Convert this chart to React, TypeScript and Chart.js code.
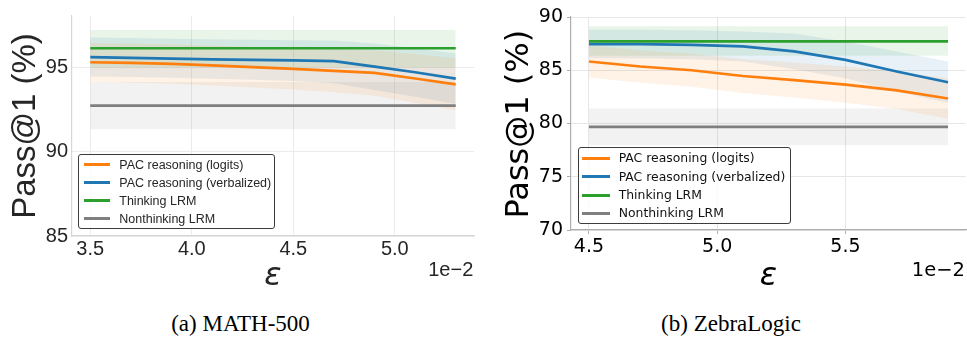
import React, { useEffect, useRef } from "react";
import { Chart, registerables } from "chart.js";

Chart.register(...registerables);

const ORANGE = "#ff7f0e";
const BLUE = "#1f77b4";
const GREEN = "#2ca02c";
const GREY = "#7f7f7f";

const seriesLabels = [
  "PAC reasoning (logits)",
  "PAC reasoning (verbalized)",
  "Thinking LRM",
  "Nonthinking LRM",
];

// ---------- (a) MATH-500 ----------
const mathEps = [3.5, 3.7, 3.9, 4.1, 4.3, 4.5, 4.7, 4.9, 5.1, 5.3];
const mathLogits = [95.29, 95.25, 95.19, 95.1, 95.0, 94.9, 94.78, 94.66, 94.33, 93.98];
const mathLogitsLow = [94.13, 94.08, 94.02, 93.92, 93.8, 93.68, 93.52, 93.3, 92.88, 92.43];
const mathLogitsHigh = [96.43, 96.4, 96.36, 96.28, 96.2, 96.12, 96.04, 96.0, 95.78, 95.53];
const mathVerb = [95.6, 95.55, 95.5, 95.46, 95.43, 95.4, 95.36, 95.03, 94.7, 94.32];
const mathVerbLow = [94.45, 94.42, 94.38, 94.32, 94.26, 94.18, 94.05, 93.65, 93.25, 92.82];
const mathVerbHigh = [96.75, 96.72, 96.68, 96.65, 96.62, 96.6, 96.58, 96.4, 96.12, 95.82];
const mathThinking = 96.12;
const mathThinkingLow = 95.0;
const mathThinkingHigh = 97.2;
const mathNonthinking = 92.72;
const mathNonthinkingLow = 91.32;
const mathNonthinkingHigh = 94.12;
const mathXTicks = [3.5, 4.0, 4.5, 5.0];
const mathYTicks = [85, 90, 95];

// ---------- (b) ZebraLogic ----------
const zebraEps = [4.5, 4.7, 4.9, 5.1, 5.3, 5.5, 5.7, 5.9];
const zebraLogits = [85.82, 85.35, 85.0, 84.46, 84.08, 83.65, 83.11, 82.35];
const zebraLogitsLow = [84.32, 83.83, 83.45, 82.87, 82.44, 81.95, 81.35, 80.45];
const zebraLogitsHigh = [87.32, 86.87, 86.55, 86.05, 85.72, 85.35, 84.87, 84.25];
const zebraVerb = [87.46, 87.45, 87.39, 87.24, 86.77, 85.97, 84.88, 83.87];
const zebraVerbLow = [86.12, 86.1, 86.03, 85.83, 85.1, 84.25, 83.0, 81.92];
const zebraVerbHigh = [88.8, 88.8, 88.75, 88.65, 88.45, 87.7, 86.75, 85.82];
const zebraThinking = 87.72;
const zebraThinkingLow = 86.35;
const zebraThinkingHigh = 89.13;
const zebraNonthinking = 79.68;
const zebraNonthinkingLow = 77.95;
const zebraNonthinkingHigh = 81.42;
const zebraXTicks = [4.5, 5.0, 5.5];
const zebraYTicks = [70, 75, 80, 85, 90];

function rgba(hex: string, a: number) {
  const n = parseInt(hex.slice(1), 16);
  return `rgba(${(n >> 16) & 255},${(n >> 8) & 255},${n & 255},${a})`;
}
function pts(xs: number[], ys: number[]) {
  return xs.map((x, i) => ({ x, y: ys[i] }));
}
function flat(xs: number[], v: number) {
  return [
    { x: xs[0], y: v },
    { x: xs[xs.length - 1], y: v },
  ];
}

function bandSets(low: any[], high: any[], color: string) {
  return [
    {
      label: "_band_low",
      data: low,
      borderWidth: 0,
      borderColor: "rgba(0,0,0,0)",
      pointRadius: 0,
      fill: false,
      order: 10,
    },
    {
      label: "_band_high",
      data: high,
      borderWidth: 0,
      borderColor: "rgba(0,0,0,0)",
      backgroundColor: rgba(color, 0.1),
      pointRadius: 0,
      fill: "-1",
      order: 10,
    },
  ];
}

function lineSet(label: string, data: any[], color: string, order: number) {
  return {
    label,
    data,
    borderColor: color,
    backgroundColor: color,
    borderWidth: 2.7,
    pointRadius: 0,
    fill: false,
    tension: 0,
    order,
  };
}

const axisTextPlugin = {
  id: "axisText",
  afterDraw(chart: any, _args: any, o: any) {
    const { ctx, chartArea } = chart;
    ctx.save();
    ctx.fillStyle = o.color;
    ctx.save();
    ctx.translate(o.yBaselineX, (chartArea.top + chartArea.bottom) / 2 + o.yShift);
    ctx.rotate(-Math.PI / 2);
    ctx.font = o.yFont;
    ctx.textAlign = "center";
    ctx.textBaseline = "alphabetic";
    ctx.fillText(o.yLabel, 0, 0);
    ctx.restore();
    ctx.font = o.xFont;
    ctx.textAlign = "center";
    ctx.textBaseline = "alphabetic";
    ctx.fillText(o.xLabel, (chartArea.left + chartArea.right) / 2 + o.xShift, o.xBaselineY);
    ctx.font = o.offFont;
    ctx.textAlign = "right";
    ctx.fillText(o.offsetText, chartArea.right + o.offDx, o.offBaselineY);
    ctx.restore();
  },
};

type Cfg = {
  eps: number[];
  logits: number[];
  logitsLow: number[];
  logitsHigh: number[];
  verb: number[];
  verbLow: number[];
  verbHigh: number[];
  thinking: number;
  thinkingLow: number;
  thinkingHigh: number;
  non: number;
  nonLow: number;
  nonHigh: number;
  xTicks: number[];
  yTicks: number[];
  xMin: number;
  xMax: number;
  yMin: number;
  yMax: number;
  yWidth: number;
  xHeight: number;
  padTop: number;
  padRight: number;
  font: string;
  tickSize: number;
  textColor: string;
  gridColor: string;
  borderColor: string;
  drawTicks: boolean;
  xTickPad: number;
  yTickPad: number;
  axisText: any;
};

function buildConfig(c: Cfg): any {
  const datasets = [
    ...bandSets(pts(c.eps, c.logitsLow), pts(c.eps, c.logitsHigh), ORANGE),
    ...bandSets(pts(c.eps, c.verbLow), pts(c.eps, c.verbHigh), BLUE),
    ...bandSets(flat(c.eps, c.thinkingLow), flat(c.eps, c.thinkingHigh), GREEN),
    ...bandSets(flat(c.eps, c.nonLow), flat(c.eps, c.nonHigh), GREY),
    lineSet(seriesLabels[0], pts(c.eps, c.logits), ORANGE, 4),
    lineSet(seriesLabels[1], pts(c.eps, c.verb), BLUE, 3),
    lineSet(seriesLabels[2], flat(c.eps, c.thinking), GREEN, 2),
    lineSet(seriesLabels[3], flat(c.eps, c.non), GREY, 1),
  ];
  const tickFont = { family: c.font, size: c.tickSize };
  return {
    type: "line",
    data: { datasets },
    plugins: [axisTextPlugin],
    options: {
      animation: false,
      responsive: false,
      maintainAspectRatio: false,
      layout: { padding: { top: c.padTop, right: c.padRight, left: 0, bottom: 0 } },
      plugins: {
        legend: { display: false },
        tooltip: { enabled: false },
        axisText: c.axisText,
      },
      scales: {
        x: {
          type: "linear",
          min: c.xMin,
          max: c.xMax,
          afterBuildTicks: (s: any) => {
            s.ticks = c.xTicks.map((v) => ({ value: v }));
          },
          afterFit: (s: any) => {
            s.height = c.xHeight;
          },
          ticks: {
            font: tickFont,
            color: c.textColor,
            padding: c.xTickPad,
            maxRotation: 0,
            autoSkip: false,
            callback: (v: any) => Number(v).toFixed(1),
          },
          grid: {
            color: c.gridColor,
            lineWidth: 1,
            drawTicks: c.drawTicks,
            tickLength: 4,
            tickColor: c.borderColor,
          },
          border: { color: c.borderColor, width: 1.2 },
        },
        y: {
          type: "linear",
          min: c.yMin,
          max: c.yMax,
          afterBuildTicks: (s: any) => {
            s.ticks = c.yTicks.map((v) => ({ value: v }));
          },
          afterFit: (s: any) => {
            s.width = c.yWidth;
          },
          ticks: {
            font: tickFont,
            color: c.textColor,
            padding: c.yTickPad,
            autoSkip: false,
            callback: (v: any) => String(v),
          },
          grid: {
            color: c.gridColor,
            lineWidth: 1,
            drawTicks: c.drawTicks,
            tickLength: 4,
            tickColor: c.borderColor,
          },
          border: { color: c.borderColor, width: 1.2 },
        },
      },
    },
  };
}

function ChartCanvas({ cfg, width, height }: { cfg: Cfg; width: number; height: number }) {
  const ref = useRef<HTMLCanvasElement | null>(null);
  useEffect(() => {
    if (!ref.current) return;
    const chart = new Chart(ref.current, buildConfig(cfg));
    return () => chart.destroy();
  }, []);
  return <canvas ref={ref} width={width} height={height} style={{ width, height, display: "block" }} />;
}

function Legend({
  left,
  top,
  width,
  height,
  rows,
  lineLeft,
  lineWidth,
  textLeft,
  font,
  size,
  color,
}: any) {
  const colors = [ORANGE, BLUE, GREEN, GREY];
  return (
    <div
      style={{
        position: "absolute",
        left,
        top,
        width,
        height,
        boxSizing: "border-box",
        border: "1px solid #3c3c3c",
        borderRadius: 3,
        background: "rgba(255,255,255,0.8)",
      }}
    >
      {seriesLabels.map((lab, i) => (
        <React.Fragment key={lab}>
          <div
            style={{
              position: "absolute",
              left: lineLeft,
              top: rows[i] - 1.5,
              width: lineWidth,
              height: 3,
              background: colors[i],
            }}
          />
          <div
            style={{
              position: "absolute",
              left: textLeft,
              top: rows[i] - 9,
              height: 18,
              lineHeight: "18px",
              whiteSpace: "nowrap",
              fontFamily: font,
              fontSize: size,
              color,
            }}
          >
            {lab}
          </div>
        </React.Fragment>
      ))}
    </div>
  );
}

const mathCfg: Cfg = {
  eps: mathEps,
  logits: mathLogits,
  logitsLow: mathLogitsLow,
  logitsHigh: mathLogitsHigh,
  verb: mathVerb,
  verbLow: mathVerbLow,
  verbHigh: mathVerbHigh,
  thinking: mathThinking,
  thinkingLow: mathThinkingLow,
  thinkingHigh: mathThinkingHigh,
  non: mathNonthinking,
  nonLow: mathNonthinkingLow,
  nonHigh: mathNonthinkingHigh,
  xTicks: mathXTicks,
  yTicks: mathYTicks,
  xMin: 3.41,
  xMax: 5.39,
  yMin: 85,
  yMax: 98.03,
  yWidth: 72,
  xHeight: 64,
  padTop: 10,
  padRight: 6,
  font: "'Liberation Sans', Arial, sans-serif",
  tickSize: 20,
  textColor: "#262626",
  gridColor: "#ebebeb",
  borderColor: "#d6d6d6",
  drawTicks: false,
  xTickPad: 1,
  yTickPad: 4,
  axisText: {
    color: "#262626",
    yLabel: "Pass@1 (%)",
    yFont: "33px 'Liberation Sans', Arial, sans-serif",
    yBaselineX: 35,
    yShift: 0,
    xLabel: "ε",
    xFont: "italic 32px 'DejaVu Sans', sans-serif",
    xBaselineY: 285,
    xShift: 0,
    offsetText: "1e\u22122",
    offFont: "20px 'Liberation Sans', Arial, sans-serif",
    offDx: -0.7,
    offBaselineY: 276,
  },
};

const zebraCfg: Cfg = {
  eps: zebraEps,
  logits: zebraLogits,
  logitsLow: zebraLogitsLow,
  logitsHigh: zebraLogitsHigh,
  verb: zebraVerb,
  verbLow: zebraVerbLow,
  verbHigh: zebraVerbHigh,
  thinking: zebraThinking,
  thinkingLow: zebraThinkingLow,
  thinkingHigh: zebraThinkingHigh,
  non: zebraNonthinking,
  nonLow: zebraNonthinkingLow,
  nonHigh: zebraNonthinkingHigh,
  xTicks: zebraXTicks,
  yTicks: zebraYTicks,
  xMin: 4.43,
  xMax: 5.97,
  yMin: 70,
  yMax: 90,
  yWidth: 91,
  xHeight: 70,
  padTop: 17,
  padRight: 1,
  font: "'DejaVu Sans', sans-serif",
  tickSize: 19,
  textColor: "#000000",
  gridColor: "#e6e6e6",
  borderColor: "#adadad",
  drawTicks: true,
  xTickPad: 2,
  yTickPad: 4,
  axisText: {
    color: "#000000",
    yLabel: "Pass@1 (%)",
    yFont: "32px 'DejaVu Sans', sans-serif",
    yBaselineX: 48.3,
    yShift: 0.7,
    xLabel: "ε",
    xFont: "italic 32px 'DejaVu Sans', sans-serif",
    xBaselineY: 285,
    xShift: 0,
    offsetText: "1e\u22122",
    offFont: "19.5px 'DejaVu Sans', sans-serif",
    offDx: -1,
    offBaselineY: 275.5,
  },
};

export default function App() {
  return (
    <div
      style={{
        position: "absolute",
        left: 0,
        top: 0,
        width: 967,
        height: 341,
        background: "#ffffff",
        overflow: "hidden",
      }}
    >
      <div style={{ position: "absolute", left: 0, top: 0 }}>
        <ChartCanvas cfg={mathCfg} width={480} height={300} />
      </div>
      <div style={{ position: "absolute", left: 480, top: 0 }}>
        <ChartCanvas cfg={zebraCfg} width={487} height={300} />
      </div>
      <Legend
        left={77.7}
        top={153.7}
        width={197.6}
        height={75.6}
        rows={[10, 28, 46, 64]}
        lineLeft={5}
        lineWidth={26.3}
        textLeft={40.6}
        font="'Liberation Sans', Arial, sans-serif"
        size={12.5}
        color="#262626"
      />
      <Legend
        left={577.7}
        top={147}
        width={213}
        height={77}
        rows={[10.3, 28.7, 47, 65.3]}
        lineLeft={3.3}
        lineWidth={27.7}
        textLeft={40}
        font="'DejaVu Sans', sans-serif"
        size={12.4}
        color="#111111"
      />
      <div
        style={{
          position: "absolute",
          left: 140.5,
          width: 200,
          top: 312.4,
          textAlign: "center",
          fontFamily: "'Liberation Serif', 'Times New Roman', serif",
          fontSize: 23,
          lineHeight: "23px",
          color: "#000",
          whiteSpace: "nowrap",
        }}
      >
        (a) MATH-500
      </div>
      <div
        style={{
          position: "absolute",
          left: 631,
          width: 200,
          top: 312.4,
          textAlign: "center",
          fontFamily: "'Liberation Serif', 'Times New Roman', serif",
          fontSize: 23,
          lineHeight: "23px",
          color: "#000",
          whiteSpace: "nowrap",
        }}
      >
        (b) ZebraLogic
      </div>
    </div>
  );
}
